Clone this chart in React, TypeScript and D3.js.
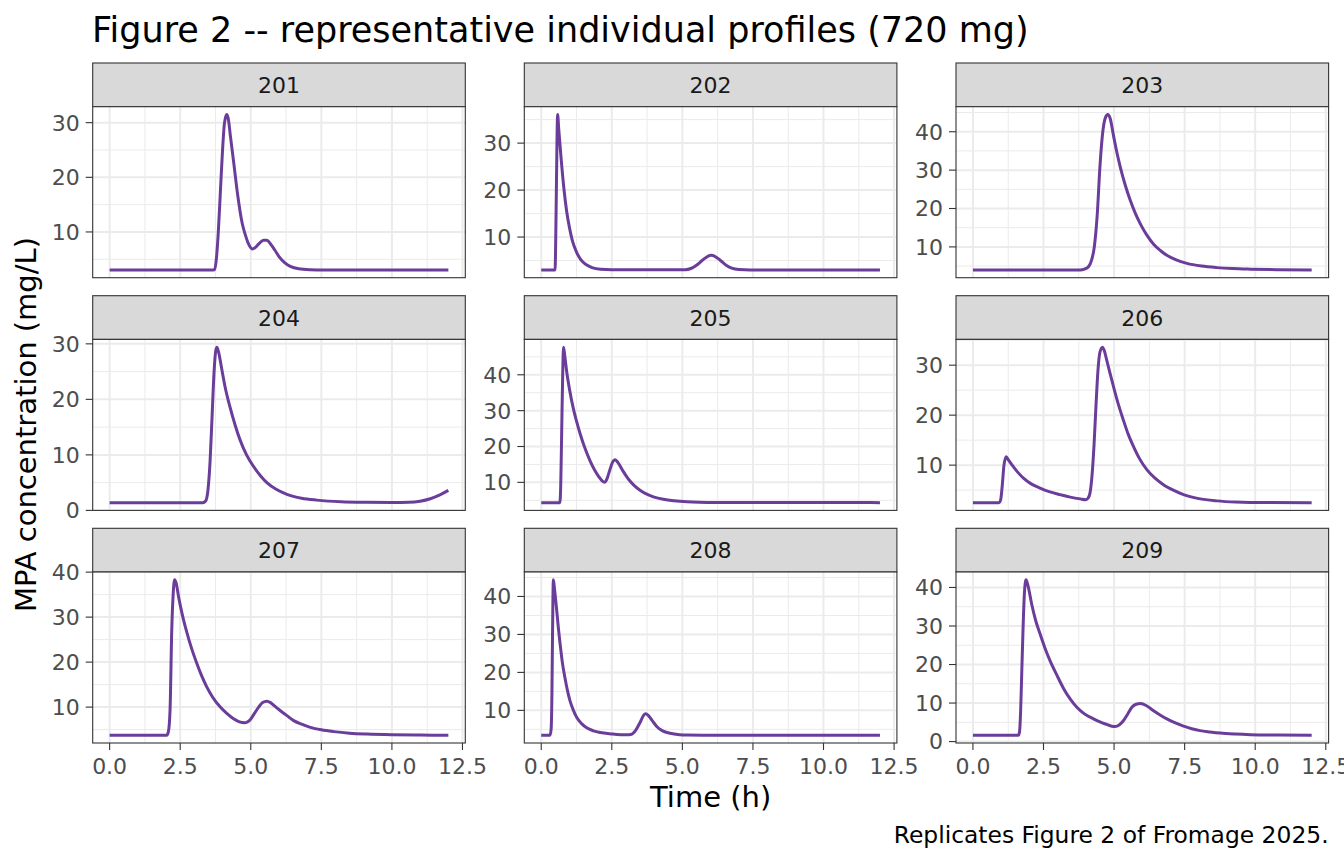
import React from "react";
import * as d3 from "d3";

// ---- data ----
const subjects = ["201", "202", "203", "204", "205", "206", "207", "208", "209"];

const p201: [number, number][] = [[0,3.05],[3.6,3.05],[3.72,3.1],[3.78,5],[3.85,10],[3.92,17],[4.0,25],[4.07,30],[4.15,31.5],[4.2,30.8],[4.28,27.5],[4.4,22.5],[4.53,17],[4.7,11.5],[4.8,9.6],[4.92,7.8],[5.05,6.9],[5.15,7.1],[5.3,7.9],[5.45,8.5],[5.57,8.5],[5.7,7.8],[5.85,6.7],[6.0,5.5],[6.2,4.4],[6.4,3.7],[6.7,3.25],[7.1,3.1],[7.6,3.05],[12,3.05]];
const p202: [number, number][] = [[0,3.0],[0.49,3.0],[0.51,8],[0.54,22],[0.58,36.1],[0.62,33],[0.7,27],[0.8,20.5],[0.9,15.5],[1.0,12],[1.1,9.3],[1.25,6.8],[1.4,5.2],[1.6,4.1],[1.8,3.5],[2.1,3.15],[2.5,3.05],[5.1,3.05],[5.3,3.3],[5.5,4.0],[5.7,5.0],[5.9,5.9],[6.02,6.1],[6.15,5.9],[6.35,5.0],[6.55,4.0],[6.75,3.4],[7.0,3.1],[7.4,3.0],[12,3.0]];
const p203: [number, number][] = [[0,4.0],[3.8,4.0],[3.95,4.2],[4.1,4.9],[4.2,6.5],[4.3,10],[4.4,18],[4.5,31],[4.6,40],[4.7,43.8],[4.78,44.5],[4.86,43.5],[4.98,39],[5.1,34.6],[5.22,30.8],[5.4,26],[5.57,22.2],[5.75,18.8],[5.93,16],[6.15,13.2],[6.4,10.7],[6.65,9.0],[6.87,7.8],[7.2,6.6],[7.58,5.7],[8.1,5.0],[8.64,4.6],[9.2,4.35],[9.83,4.2],[10.8,4.07],[12,4.0]];
const p204: [number, number][] = [[0,1.4],[3.3,1.4],[3.4,1.7],[3.48,3.5],[3.56,9],[3.63,17],[3.7,25],[3.76,28.8],[3.8,29.4],[3.86,28.5],[3.97,25.5],[4.1,22],[4.27,18.5],[4.45,15.3],[4.62,12.7],[4.85,10],[5.1,7.9],[5.35,6.2],[5.57,5.0],[5.9,3.8],[6.28,2.9],[6.8,2.2],[7.34,1.85],[8.2,1.55],[9.1,1.45],[10.0,1.42],[10.6,1.45],[11.0,1.65],[11.36,2.1],[11.7,2.8],[12,3.6]];
const p205: [number, number][] = [[0,4.35],[0.66,4.35],[0.69,9],[0.72,22],[0.76,40],[0.79,47.7],[0.83,45.5],[0.9,41],[1.0,36],[1.14,30.5],[1.26,26.8],[1.38,23.5],[1.55,19.5],[1.73,16],[1.9,13.3],[2.03,11.7],[2.15,10.5],[2.24,10.0],[2.32,10.8],[2.42,13.2],[2.52,15.5],[2.62,16.3],[2.72,15.5],[2.91,13],[3.1,10.8],[3.27,9.3],[3.5,7.8],[3.74,6.7],[4.0,5.9],[4.33,5.3],[4.7,4.9],[5.16,4.6],[5.6,4.45],[6.1,4.38],[12,4.35]];
const p206: [number, number][] = [[0,2.5],[0.92,2.5],[0.98,3.0],[1.04,6],[1.1,10],[1.18,11.7],[1.25,11.1],[1.43,9.7],[1.6,8.5],[1.79,7.4],[2.05,6.3],[2.38,5.4],[2.7,4.7],[3.09,4.1],[3.45,3.6],[3.8,3.25],[4.0,3.1],[4.08,3.4],[4.15,4.5],[4.22,8],[4.29,14],[4.36,22],[4.43,29],[4.5,32.6],[4.59,33.6],[4.66,32.8],[4.74,31],[4.86,28.3],[4.98,25.7],[5.15,22.2],[5.33,19],[5.5,16.2],[5.69,13.7],[5.9,11.3],[6.16,9.1],[6.45,7.4],[6.75,6.1],[7.1,5.0],[7.46,4.1],[8.0,3.3],[8.64,2.85],[9.3,2.62],[9.83,2.55],[12,2.5]];
const p207: [number, number][] = [[0,3.75],[2.02,3.75],[2.08,4.5],[2.14,9.3],[2.2,27],[2.25,35],[2.3,38.3],[2.36,37.5],[2.44,34.6],[2.58,30.4],[2.74,26.5],[2.9,23.1],[3.09,19.7],[3.25,17.1],[3.44,14.5],[3.65,12.2],[3.92,10],[4.15,8.6],[4.39,7.4],[4.6,6.7],[4.78,6.5],[4.88,6.7],[4.98,7.2],[5.13,8.6],[5.28,10.0],[5.42,11.0],[5.57,11.3],[5.7,11.0],[5.85,10.2],[6.05,9.2],[6.28,8.1],[6.52,7.0],[6.8,6.2],[7.11,5.5],[7.5,4.95],[7.94,4.55],[8.5,4.2],[9.12,4.0],[10,3.85],[11,3.78],[12,3.75]];
const p208: [number, number][] = [[0,3.45],[0.31,3.45],[0.35,5],[0.38,15],[0.4,30],[0.43,44.4],[0.47,42],[0.55,36.2],[0.61,31.5],[0.67,27.4],[0.75,22.5],[0.84,18.6],[0.93,15.2],[1.02,12.5],[1.14,10],[1.26,8.1],[1.43,6.5],[1.61,5.4],[1.85,4.6],[2.09,4.15],[2.5,3.8],[3.03,3.55],[3.2,3.7],[3.35,4.8],[3.5,6.8],[3.62,8.6],[3.7,9.1],[3.8,8.6],[3.95,7.1],[4.1,5.7],[4.3,4.6],[4.57,3.95],[4.9,3.6],[5.16,3.5],[6,3.45],[12,3.45]];
const p209: [number, number][] = [[0,1.65],[1.61,1.65],[1.65,2.5],[1.69,8],[1.73,18],[1.77,28],[1.82,38],[1.88,42],[1.95,40.5],[2.08,35.7],[2.22,31.5],[2.38,27.9],[2.55,24.3],[2.73,21],[2.97,17.3],[3.21,13.8],[3.45,11.0],[3.68,8.9],[3.95,7.2],[4.27,5.9],[4.5,5.1],[4.74,4.45],[4.92,4.0],[5.04,3.9],[5.18,4.3],[5.33,5.4],[5.48,7.1],[5.63,8.9],[5.78,9.7],[5.95,9.9],[6.15,9.3],[6.4,8.0],[6.63,6.9],[6.87,5.9],[7.15,4.9],[7.46,4.0],[7.75,3.35],[8.05,2.85],[8.4,2.5],[8.76,2.2],[9.3,1.95],[9.83,1.8],[10.8,1.7],[12,1.65]];

const profiles = [p201, p202, p203, p204, p205, p206, p207, p208, p209];

const yTicks: number[][] = [
  [10, 20, 30],
  [10, 20, 30],
  [10, 20, 30, 40],
  [0, 10, 20, 30],
  [10, 20, 30, 40],
  [10, 20, 30],
  [10, 20, 30, 40],
  [10, 20, 30, 40],
  [0, 10, 20, 30, 40],
];
const xTicks = [0, 2.5, 5, 7.5, 10, 12.5];
const xMinor = [1.25, 3.75, 6.25, 8.75, 11.25];

const titleText = "Figure 2 -- representative individual profiles (720 mg)";
const xTitle = "Time (h)";
const yTitle = "MPA concentration (mg/L)";
const captionText = "Replicates Figure 2 of Fromage 2025.";

// ---- layout ----
const W = 1344, H = 864;
const colX = [92.7, 524.3, 956];
const panelW = 372.6;
const stripTop = [63, 295.7, 528.3];
const stripH = 43.7;
const panelH = 171;
const FONT = "DejaVu Sans, Verdana, sans-serif";
const purple = "#6A3D9A";
const tickFS = 22;

function Panel({ idx }: { idx: number }) {
  const col = idx % 3, row = Math.floor(idx / 3);
  const x0 = colX[col];
  const sTop = stripTop[row];
  const pTop = sTop + stripH;
  const data = profiles[idx];
  const xExt = d3.extent(data, (d) => d[0]) as [number, number];
  const yExt = d3.extent(data, (d) => d[1]) as [number, number];
  const xr = xExt[1] - xExt[0], yr = yExt[1] - yExt[0];
  const x = d3.scaleLinear().domain([xExt[0] - 0.05 * xr, xExt[1] + 0.05 * xr]).range([x0, x0 + panelW]);
  const y = d3.scaleLinear().domain([yExt[0] - 0.05 * yr, yExt[1] + 0.05 * yr]).range([pTop + panelH, pTop]);
  const yt = yTicks[idx];
  const step = yt[1] - yt[0];
  const yMinor = [yt[0] - step / 2, ...yt.map((t) => t + step / 2)].filter(
    (v) => v >= y.domain()[0] && v <= y.domain()[1]
  );
  const ytIn = yt.filter((v) => v >= y.domain()[0] - 0.5 && v <= y.domain()[1]);
  const line = d3.line<[number, number]>().x((d) => x(d[0])).y((d) => y(d[1])).curve(d3.curveMonotoneX);
  const clipId = `clip${idx}`;
  const fmt = d3.format(".1f");
  return (
    <g>
      <defs>
        <clipPath id={clipId}>
          <rect x={x0} y={pTop} width={panelW} height={panelH} />
        </clipPath>
      </defs>
      {/* strip */}
      <rect x={x0} y={sTop} width={panelW} height={stripH} fill="#d9d9d9" stroke="#333333" strokeWidth={1.1} />
      <text x={x0 + panelW / 2} y={sTop + stripH / 2 + 8.2} textAnchor="middle" fontSize={22} fill="#1a1a1a" fontFamily={FONT}>
        {subjects[idx]}
      </text>
      {/* panel */}
      <rect x={x0} y={pTop} width={panelW} height={panelH} fill="white" />
      <g clipPath={`url(#${clipId})`}>
        {yMinor.map((v) => (
          <line key={"ym" + v} x1={x0} x2={x0 + panelW} y1={y(v)} y2={y(v)} stroke="#ebebeb" strokeWidth={1} />
        ))}
        {xMinor.map((v) => (
          <line key={"xm" + v} y1={pTop} y2={pTop + panelH} x1={x(v)} x2={x(v)} stroke="#ebebeb" strokeWidth={1} />
        ))}
        {ytIn.map((v) => (
          <line key={"yM" + v} x1={x0} x2={x0 + panelW} y1={y(v)} y2={y(v)} stroke="#ebebeb" strokeWidth={2} />
        ))}
        {xTicks.map((v) => (
          <line key={"xM" + v} y1={pTop} y2={pTop + panelH} x1={x(v)} x2={x(v)} stroke="#ebebeb" strokeWidth={2} />
        ))}
        <path d={line(data) || ""} fill="none" stroke={purple} strokeWidth={3} strokeLinejoin="round" strokeLinecap="butt" />
      </g>
      <rect x={x0} y={pTop} width={panelW} height={panelH} fill="none" stroke="#333333" strokeWidth={1.1} />
      {/* y axis */}
      {ytIn.map((v) => (
        <g key={"yt" + v}>
          <line x1={x0 - 7} x2={x0} y1={y(v)} y2={y(v)} stroke="#333333" strokeWidth={1.1} />
          <text x={x0 - 13} y={y(v) + 7.9} textAnchor="end" fontSize={tickFS} fill="#4d4d4d" fontFamily={FONT}>
            {v}
          </text>
        </g>
      ))}
      {/* x axis on bottom row */}
      {row === 2 &&
        xTicks.map((v) => (
          <g key={"xt" + v}>
            <line x1={x(v)} x2={x(v)} y1={pTop + panelH} y2={pTop + panelH + 7} stroke="#333333" strokeWidth={1.1} />
            <text x={x(v)} y={pTop + panelH + 30.5} textAnchor="middle" fontSize={tickFS} fill="#4d4d4d" fontFamily={FONT}>
              {fmt(v)}
            </text>
          </g>
        ))}
    </g>
  );
}

export default function App() {
  return (
    <svg width={W} height={H} viewBox={`0 0 ${W} ${H}`} style={{ position: "absolute", left: 0, top: 0, display: "block", background: "white" }}>
      <rect width={W} height={H} fill="white" />
      <text x={92} y={42} fontSize={35} fill="#000" fontFamily={FONT}>{titleText}</text>
      {subjects.map((s, i) => (
        <Panel key={s} idx={i} />
      ))}
      <text x={(colX[0] + colX[2] + panelW) / 2} y={807} textAnchor="middle" fontSize={29} fill="#000" fontFamily={FONT}>{xTitle}</text>
      <text transform={`translate(36, 424.5) rotate(-90)`} textAnchor="middle" fontSize={29} fill="#000" fontFamily={FONT}>{yTitle}</text>
      <text x={colX[2] + panelW} y={843} textAnchor="end" fontSize={23.4} fill="#000" fontFamily={FONT}>{captionText}</text>
    </svg>
  );
}
